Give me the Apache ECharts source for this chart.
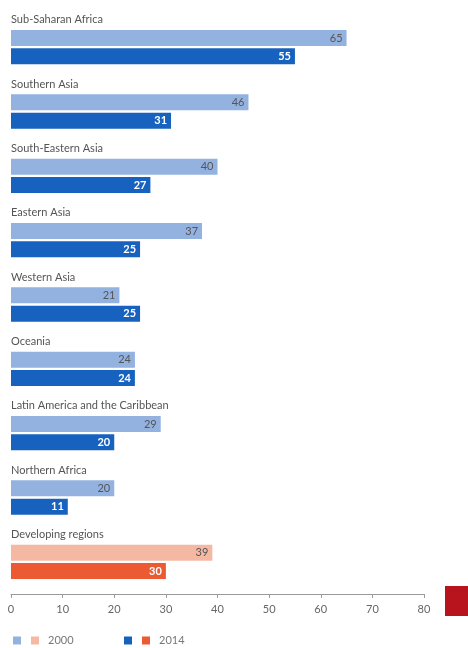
<!DOCTYPE html>
<html>
<head>
<meta charset="utf-8">
<script src="https://cdn.jsdelivr.net/npm/echarts@6/dist/echarts.min.js"></script>
<style>
  html, body { margin: 0; padding: 0; background: #fff; }
  #chart { width: 468px; height: 648px; }
</style>
</head>
<body>
<div id="chart"></div>
<script>
const regions = [
  "Sub-Saharan Africa",
  "Southern Asia",
  "South-Eastern Asia",
  "Eastern Asia",
  "Western Asia",
  "Oceania",
  "Latin America and the Caribbean",
  "Northern Africa",
  "Developing regions",
];
const values2000 = [65, 46, 40, 37, 21, 24, 29, 20, 39];
const values2014 = [55, 31, 27, 25, 25, 24, 20, 11, 30];
const xTicks = [0, 10, 20, 30, 40, 50, 60, 70, 80];

const font = "Lato, 'Open Sans', sans-serif";
const lastIdx = regions.length - 1;

// split each year into the regions part and the developing-regions total
const onlyRegions = (arr) => arr.map((v, i) => (i === lastIdx ? "-" : v));
const onlyTotal = (arr) => arr.map((v, i) => (i === lastIdx ? v : "-"));

const names = {
  r2000: "Regions 2000",
  d2000: "Developing 2000",
  r2014: "Regions 2014",
  d2014: "Developing 2014",
};

function barSeries(name, stack, data, color, labelColor) {
  return {
    name: name,
    type: "bar",
    stack: stack,
    data: data,
    barWidth: 16,
    barGap: "15%",
    itemStyle: { color: color },
    label: {
      show: true,
      position: "insideRight",
      distance: 4,
      color: labelColor,
      fontFamily: font,
      fontSize: 11,
      fontWeight: labelColor === "#fff" ? "bold" : "normal",
    },
  };
}

function legendFor(left, keys, text) {
  return {
    left: left,
    top: 635,
    padding: 0,
    itemWidth: 8,
    itemHeight: 8,
    itemGap: 10,
    icon: "rect",
    data: keys,
    formatter: (n) => (n === keys[1] ? text : ""),
    textStyle: {
      color: "#777",
      fontFamily: font,
      fontSize: 11,
      padding: [0, 0, 0, 4],
    },
  };
}

const chart = echarts.init(document.getElementById("chart"));
chart.setOption({
  backgroundColor: "#fff",
  animation: false,
  grid: { left: 11, right: 44, top: 15, bottom: 54 },
  xAxis: {
    type: "value",
    min: xTicks[0],
    max: xTicks[xTicks.length - 1],
    interval: 10,
    splitLine: { show: false },
    axisLine: { show: true, lineStyle: { color: "#9a9a9a" } },
    axisTick: { show: true, length: 4, lineStyle: { color: "#9a9a9a" } },
    axisLabel: {
      color: "#666",
      fontFamily: font,
      fontSize: 11,
      margin: 10,
    },
  },
  yAxis: {
    type: "category",
    data: regions,
    inverse: true,
    axisLine: { show: false },
    axisTick: { show: false },
    axisLabel: {
      inside: true,
      margin: 0,
      align: "left",
      verticalAlign: "bottom",
      padding: [0, 0, 22, 0],
      color: "#555",
      fontFamily: font,
      fontSize: 11,
    },
  },
  legend: [
    legendFor(13, [names.r2000, names.d2000], "2000"),
    legendFor(124, [names.r2014, names.d2014], "2014"),
  ],
  series: [
    barSeries(names.r2000, "y2000", onlyRegions(values2000), "#93b2e0", "#555"),
    barSeries(names.d2000, "y2000", onlyTotal(values2000), "#f5b9a3", "#555"),
    barSeries(names.r2014, "y2014", onlyRegions(values2014), "#1662be", "#fff"),
    barSeries(names.d2014, "y2014", onlyTotal(values2014), "#eb5a33", "#fff"),
  ],
  graphic: [
    {
      type: "rect",
      left: 445,
      top: 586,
      shape: { width: 23, height: 30 },
      style: { fill: "#b8141e" },
    },
  ],
});
</script>
</body>
</html>
